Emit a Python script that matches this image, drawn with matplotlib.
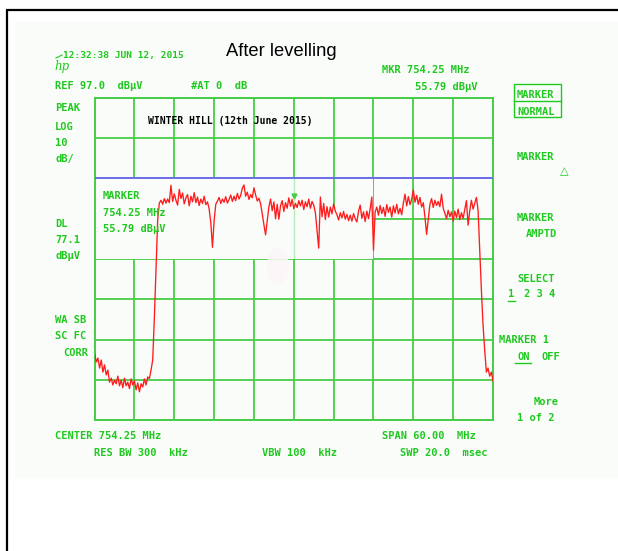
import numpy as np
import matplotlib
matplotlib.use('Agg')
import matplotlib.pyplot as plt
from matplotlib.patches import Rectangle, Ellipse

# --- analyser settings ---
CENTER_MHZ = 754.25
SPAN_MHZ = 60.0
REF_DBUV = 97.0
DB_PER_DIV = 10.0
N_DIV_X = 10
N_DIV_Y = 8
DISPLAY_LINE = 77.1
STEP_MHZ = 0.25

# trace levels, dBuV, one value per 0.25 MHz from the left edge of the sweep
levels = [
    33.6, 31.4, 32.4, 29.9, 31.9, 28.9, 30.7, 28.2, 29.4, 26.4,
    27.4, 25.7, 26.9, 26.0, 27.9, 25.5, 26.9, 25.0, 27.4, 25.5,
    26.4, 24.8, 27.2, 25.7, 26.7, 24.5, 26.2, 24.0, 26.0, 25.2,
    27.2, 25.7, 27.7, 27.3, 29.4, 31.9, 42.3, 54.3, 66.7, 70.9,
    71.6, 70.6, 72.0, 70.9, 71.9, 71.0, 75.3, 71.3, 73.2, 71.6,
    70.4, 74.3, 72.0, 73.4, 70.7, 72.2, 73.0, 70.2, 72.6, 71.2,
    73.5, 71.0, 72.4, 70.3, 71.9, 70.8, 72.6, 70.5, 71.2, 69.4,
    66.0, 59.9, 66.5, 70.6, 71.4, 72.3, 70.8, 71.9, 71.1, 72.5,
    70.9, 71.8, 72.9, 71.3, 72.6, 71.5, 73.3, 71.9, 72.8, 74.6,
    75.4, 72.6, 73.6, 71.8, 73.0, 72.2, 74.7, 72.9, 71.4, 72.1,
    70.7, 68.2, 65.5, 63.0, 66.5, 70.0, 71.9, 69.0, 71.2, 67.0,
    70.6, 66.9, 70.2, 71.5, 68.8, 71.0, 69.6, 72.2, 70.1, 71.8,
    69.5, 70.8, 69.8, 71.5, 70.2, 71.6, 69.3, 71.2, 70.0, 71.9,
    69.6, 71.3, 70.4, 68.5, 64.0, 59.7, 72.4, 67.5, 70.8, 66.8,
    70.0, 67.4, 69.9, 68.2, 70.7, 68.9, 68.0, 66.7, 68.5, 67.2,
    68.8, 66.9, 68.1, 66.5, 67.9, 66.4, 68.3, 67.0, 66.2, 68.9,
    70.4, 67.1, 68.7, 66.3, 68.9, 67.0, 69.5, 72.4, 59.2, 68.7,
    69.9, 67.9, 70.3, 68.3, 69.8, 67.6, 70.5, 68.6, 69.9, 67.4,
    70.2, 68.4, 70.6, 68.2, 69.6, 68.0, 70.9, 73.1, 70.2, 72.5,
    70.5, 71.8, 74.2, 71.1, 72.8, 70.6, 72.3, 69.9, 71.0, 67.5,
    63.1, 66.8, 70.6, 72.0, 69.8, 71.6, 70.3, 71.3, 70.0, 73.1,
    69.6, 68.4, 67.0, 69.1, 67.5, 68.7, 66.4, 68.9, 67.3, 69.4,
    66.8, 68.5, 67.1, 69.3, 71.5, 65.4, 69.0, 71.6, 69.4, 70.9,
    72.3, 69.2, 59.2, 49.3, 40.6, 34.4, 28.9, 29.9, 27.9, 28.9,
    26.7,
]

MARKER_LEVEL = 72.6   # where the marker glyph sits on the trace

# screen annotations: (text, left px, baseline px)
left_labels = [
    ("REF 97.0  dB\u00b5V", 55, 89), ("#AT 0  dB", 191, 89),
    ("PEAK", 55, 111), ("LOG", 55, 130), ("10", 55, 146), ("dB/", 55, 162),
    ("DL", 55, 227), ("77.1", 55, 243), ("dB\u00b5V", 55, 259),
    ("WA SB", 55, 323), ("SC FC", 55, 339), ("CORR", 63, 356),
    ("MKR 754.25 MHz", 382, 73), ("55.79 dB\u00b5V", 415, 90),
    ("MARKER", 103, 199), ("754.25 MHz", 103, 216), ("55.79 dB\u00b5V", 103, 232),
    ("CENTER 754.25 MHz", 55, 439), ("SPAN 60.00  MHz", 382, 439),
    ("RES BW 300  kHz", 94, 456), ("VBW 100  kHz", 262, 456),
    ("SWP 20.0  msec", 400, 456),
]
softkeys = [
    ("MARKER", 517, 98), ("NORMAL", 517, 115),
    ("MARKER", 517, 160), ("MARKER", 517, 221), ("AMPTD", 526, 237),
    ("SELECT", 517, 282), ("1", 508, 297), ("2 3 4", 524, 297),
    ("MARKER 1", 499, 343), ("ON", 517, 360), ("OFF", 541, 360),
    ("More", 534, 405), ("1 of 2", 517, 421),
]

W, H = 618, 551
GREEN = '#1fc91f'
GRID = '#48cd48'
PANEL = '#f9fcf9'
MONO = 'DejaVu Sans Mono'

fig = plt.figure(figsize=(W / 100, H / 100), dpi=100)
fig.patch.set_facecolor('white')

# backdrop: frame + screen panel, in pixel units
bg = fig.add_axes([0, 0, 1, 1])
bg.set_xlim(0, W)
bg.set_ylim(H, 0)
bg.axis('off')
bg.add_patch(Rectangle((15, 21), W - 15, 457, fc=PANEL, ec='none'))
bg.plot([6, W], [10, 10], color='black', lw=1.6, solid_capstyle='butt')
bg.plot([7, 7], [10, H], color='black', lw=1.6, solid_capstyle='butt')

# graticule
gx0, gx1, gy0, gy1 = 94.6, 493.0, 98.0, 420.0
ax = fig.add_axes([gx0 / W, 1 - gy1 / H, (gx1 - gx0) / W, (gy1 - gy0) / H])
ax.set_facecolor('none')
f_lo = CENTER_MHZ - SPAN_MHZ / 2
f_hi = CENTER_MHZ + SPAN_MHZ / 2
bottom = REF_DBUV - N_DIV_Y * DB_PER_DIV
ax.set_xlim(f_lo, f_hi)
ax.set_ylim(bottom, REF_DBUV)
ax.set_xticks(np.linspace(f_lo, f_hi, N_DIV_X + 1))
ax.set_yticks(np.linspace(bottom, REF_DBUV, N_DIV_Y + 1))
ax.tick_params(length=0, labelbottom=False, labelleft=False)
ax.set_axisbelow(True)
ax.grid(True, color=GRID, lw=1.3)
for s in ax.spines.values():
    s.set_color(GRID)
    s.set_linewidth(1.4)

# blank area behind the marker readout (grid not shown there)
div = SPAN_MHZ / N_DIV_X
ax.add_patch(Rectangle((f_lo + 0.12, REF_DBUV - 4 * DB_PER_DIV),
                       7 * div - 0.24, 2 * DB_PER_DIV,
                       fc=PANEL, ec='none', zorder=1))
ax.plot([f_lo + 6 * div] * 2, [REF_DBUV - 2 * DB_PER_DIV, 70], color=GRID, lw=1.3, zorder=1.2)
ax.plot([f_lo + 5 * div] * 2, [REF_DBUV - 4 * DB_PER_DIV, REF_DBUV - 2 * DB_PER_DIV],
        color=GRID, lw=1.0, alpha=0.35, zorder=1.2)

# display line
ax.axhline(DISPLAY_LINE, color='#6c6cea', lw=1.4, zorder=2.6)

# trace
freqs = f_lo + STEP_MHZ * np.arange(len(levels))
ax.plot(freqs, levels, color='#ff1c1c', lw=0.95, zorder=3)
ax.plot([CENTER_MHZ], [MARKER_LEVEL], marker='v', color=GRID, ms=3.5, zorder=3.5)

# text overlay
top = fig.add_axes([0, 0, 1, 1], zorder=5)
top.set_xlim(0, W)
top.set_ylim(H, 0)
top.axis('off')
top.add_patch(Ellipse((278, 266), 22, 36, fc='#fcf5f7', ec='none', alpha=0.85))

for txt, x, y in left_labels + softkeys:
    top.text(x, y, txt, color=GREEN, fontsize=7.5, family=MONO,
             fontweight='bold', va='baseline', ha='left')

top.text(63, 58, "12:32:38 JUN 12, 2015", color=GREEN, fontsize=6.8,
         family=MONO, fontweight='bold', va='baseline')
top.text(54, 70, "hp", color=GREEN, fontsize=8.5, style='italic',
         va='baseline', family='DejaVu Serif')
top.plot([56, 62], [58, 55], color=GREEN, lw=0.8)
top.text(148, 124, "WINTER HILL (12th June 2015)", color='black', fontsize=7.0,
         family=MONO, fontweight='bold', va='baseline')
top.text(226, 56, "After levelling", color='black', fontsize=13.2,
         family='Liberation Sans', va='baseline')
top.text(564, 171, "\u25b3", color=GREEN, fontsize=8, ha='center', va='center',
         family='DejaVu Sans')

# softkey frame and underlines
top.add_patch(Rectangle((514, 84.3), 47.3, 32.7, fc='none', ec=GREEN, lw=1.0))
top.plot([514, 561.3], [100.7, 100.7], color=GREEN, lw=1.0)
top.plot([508, 514.7], [300.7, 300.7], color=GREEN, lw=1.0)
top.plot([515, 531], [362.7, 362.7], color=GREEN, lw=1.0)

fig.savefig('out.png', dpi=100)
